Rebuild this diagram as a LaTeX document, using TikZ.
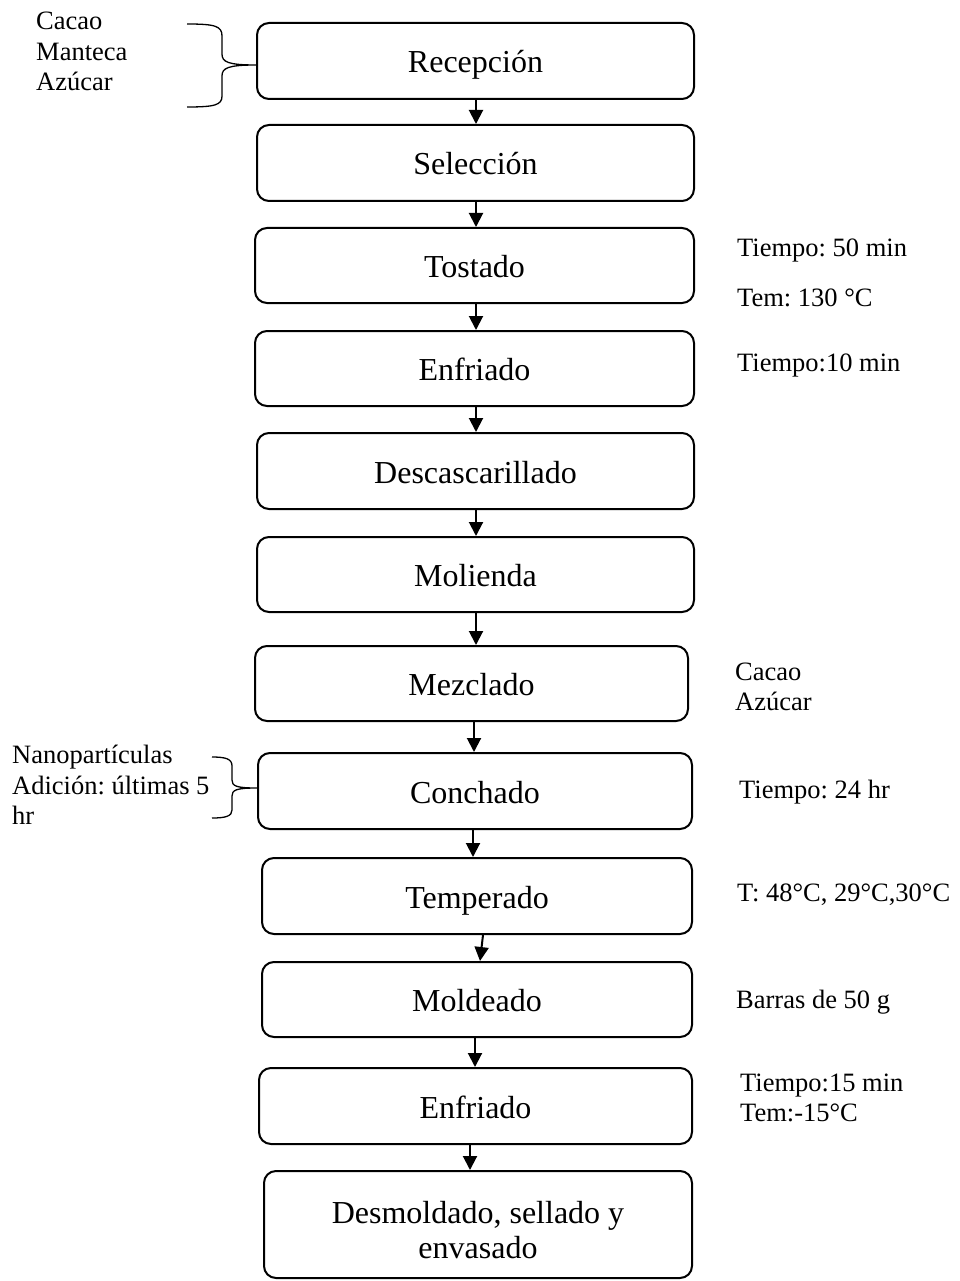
\documentclass[tikz,border=0pt]{standalone}
\usepackage{fontspec}
\setmainfont{Liberation Serif}
\usetikzlibrary{arrows.meta}
\frenchspacing
\begin{document}
\begin{tikzpicture}[x=1pt,y=-1pt,
  box/.style={draw,line width=2pt,rounded corners=12pt,inner sep=0pt,align=center,
    font=\fontsize{32}{35}\selectfont,text height=24pt,text depth=0pt},
  boxtext/.style={inner sep=0pt,align=center,font=\fontsize{32}{35}\selectfont},
  side/.style={anchor=west,inner sep=0pt,align=left,font=\fontsize{26.5}{30.5}\selectfont},
  arr/.style={line width=2pt,-{Triangle[width=14pt,length=14pt]}},
  brace/.style={line width=1.3pt}]
\useasboundingbox (0,0) rectangle (960,1281);
\node[box,minimum width=437pt,minimum height=76pt] (n1) at (475.5,61) {Recepción};
\node[box,minimum width=437pt,minimum height=76pt] (n2) at (475.5,163) {Selección};
\node[box,minimum width=439pt,minimum height=75pt] (n3) at (474.5,265.5) {Tostado};
\node[box,minimum width=439pt,minimum height=75pt] (n4) at (474.5,368.5) {Enfriado};
\node[box,minimum width=437pt,minimum height=76pt] (n5) at (475.5,471) {Descascarillado};
\node[box,minimum width=437pt,minimum height=75pt] (n6) at (475.5,574.5) {Molienda};
\node[box,minimum width=433pt,minimum height=75pt] (n7) at (471.5,683.5) {Mezclado};
\node[box,minimum width=434pt,minimum height=76pt] (n8) at (475,791) {Conchado};
\node[box,minimum width=430pt,minimum height=76pt] (n9) at (477,896) {Temperado};
\node[box,minimum width=430pt,minimum height=75pt] (n10) at (477,999.5) {Moldeado};
\node[box,minimum width=433pt,minimum height=76pt] (n11) at (475.5,1106) {Enfriado};
\node[box,minimum width=428pt,minimum height=107pt] (n12) at (478,1224.5) {};
\node[boxtext] (n12t) at ([yshift=-6pt]n12.center) {Desmoldado, sellado y\\envasado};
% arrows
\draw[arr] ([xshift=0.5pt]n1.south) -- ([xshift=0.5pt]n2.north);
\draw[arr] ([xshift=0.5pt]n2.south) -- ([xshift=1.5pt]n3.north);
\draw[arr] ([xshift=1.5pt]n3.south) -- ([xshift=1.5pt]n4.north);
\draw[arr] ([xshift=1.5pt]n4.south) -- ([xshift=0.5pt]n5.north);
\draw[arr] ([xshift=0.5pt]n5.south) -- ([xshift=0.5pt]n6.north);
\draw[arr] ([xshift=0.5pt]n6.south) -- ([xshift=4.5pt]n7.north);
\draw[arr] ([xshift=2.5pt]n7.south) -- ([xshift=-1pt]n8.north);
\draw[arr] ([xshift=-2pt]n8.south) -- ([xshift=-4pt]n9.north);
\draw[arr] ([xshift=6pt]n9.south) -- ([xshift=3pt]n10.north);
\draw[arr] ([xshift=-2pt]n10.south) -- ([xshift=-0.5pt]n11.north);
\draw[arr] ([xshift=-5.5pt]n11.south) -- ([xshift=-8pt]n12.north);
% side notes
\node[side] (t1) at (737,251) {Tiempo: 50 min};
\node[side] (t2) at (737,298) {Tem: 130 °C};
\node[side] (t3) at (737,366) {Tiempo:10 min};
\node[side] (t4) at (735,687) {Cacao\\Azúcar};
\node[side] (t5) at (739,792) {Tiempo: 24 hr};
\node[side] (t6) at (737,895) {T: 48°C, 29°C,30°C};
\node[side] (t7) at (736,1002) {Barras de 50 g};
\node[side] (t8) at (740,1098) {Tiempo:15 min\\Tem:-15°C};
\node[side] (l1) at (36,51.5) {Cacao\\Manteca\\Azúcar};
\node[side] (l2) at (12,785) {Nanopartículas\\Adición: últimas 5\\hr};
% braces
\draw[brace] (187,24) .. controls (215,24) and (222,26) .. (222,36) -- (222,54)
  .. controls (222,62) and (228,65) .. (256,65)
  .. controls (228,65) and (222,68) .. (222,76) -- (222,96)
  .. controls (222,105) and (215,107) .. (187,107);
\draw[brace] (212,757) .. controls (226,757) and (232,759) .. (232,766) -- (232,780)
  .. controls (232,786) and (236,788) .. (257,788)
  .. controls (236,788) and (232,790) .. (232,796) -- (232,810)
  .. controls (232,816) and (226,818) .. (212,818);
\end{tikzpicture}
\end{document}
